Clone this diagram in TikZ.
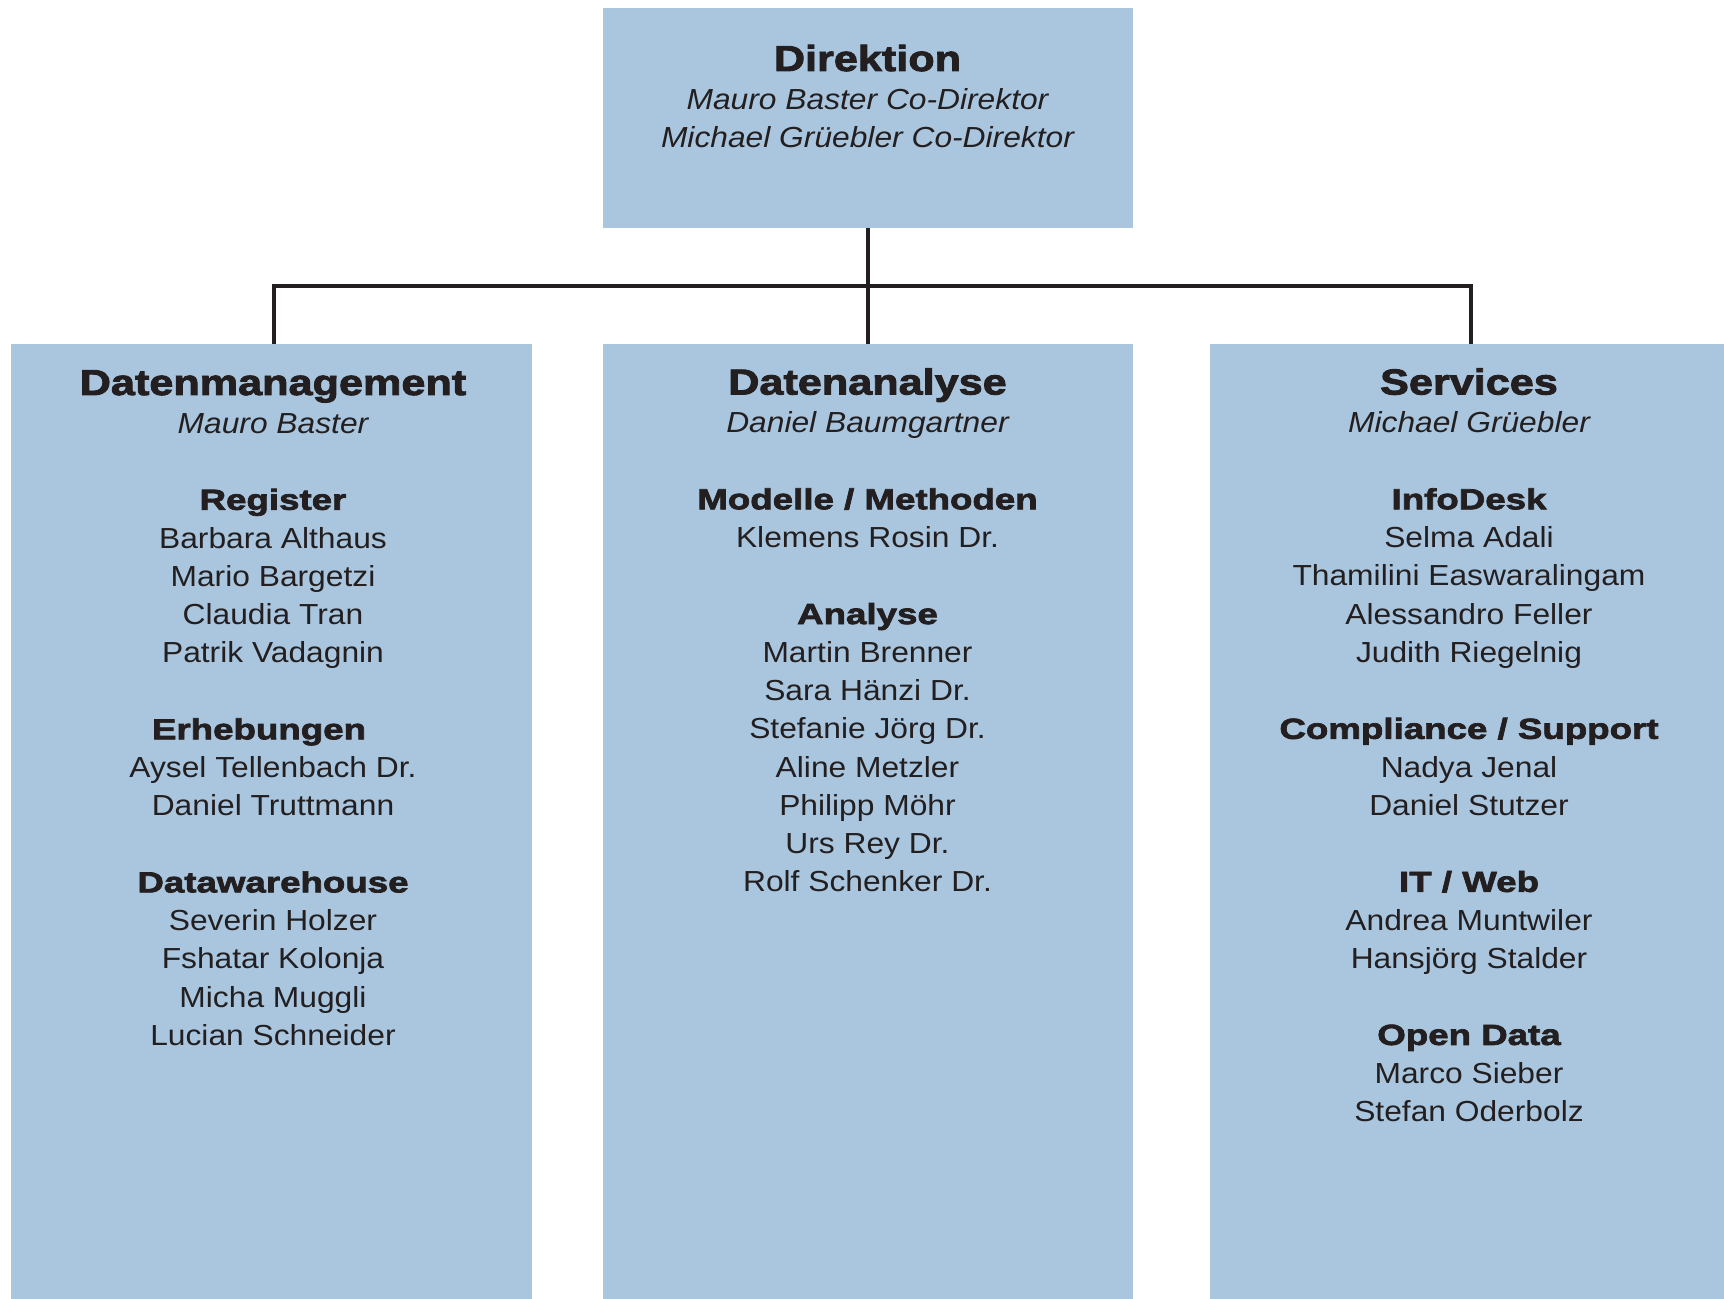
\documentclass[tikz,border=0pt]{standalone}
\usepackage{fontspec}
\setmainfont{Liberation Sans}[FakeStretch=1.095]
\newfontfamily\hdfont{Liberation Sans Bold}[FakeStretch=1.2,FakeBold=2.5]
\newfontfamily\sbfont{Liberation Sans Bold}[FakeStretch=1.265,FakeBold=2.5]
\definecolor{boxblue}{RGB}{169,198,222}
\definecolor{ink}{RGB}{35,31,32}
\newcommand\Hd[1]{{\fontsize{18pt}{19.13pt}\hdfont #1}}
\newcommand\Sb[1]{{\sbfont #1}}
\newcommand\It[1]{{\itshape #1}}
\begin{document}
\begin{tikzpicture}[x=0.5pt,y=-0.5pt,
  box/.style={fill=boxblue,draw=none,inner sep=0pt,outer sep=0pt},
  txt/.style={anchor=base,inner sep=0pt,outer sep=0pt,text=ink,font=\fontsize{14.5pt}{19.13pt}\selectfont},
  conn/.style={draw=ink,line width=2pt}]
\useasboundingbox (0,0) rectangle (1724,1299);
% boxes
\node[box,minimum width=265pt,minimum height=109.95pt] (dir) at (867.5,117.65) {};
\node[box,minimum width=260.5pt,minimum height=477.5pt] (dm) at (271.5,821.5) {};
\node[box,minimum width=265pt,minimum height=477.5pt] (da) at (867.5,821.5) {};
\node[box,minimum width=261.5pt,minimum height=477.5pt] (sv) at (1471,821.5) {};
% connectors
\coordinate (bus) at (867.5,286);
\draw[conn] (dir.south) -- (da.north);
\draw[conn] ([xshift=1.25pt]dm.north) |- (bus) -| (sv.north);
% texts
\node[txt] (tdir) at (867.5,71) {\begin{tabular}[t]{@{}c@{}}
\Hd{Direktion}\\
\It{Mauro Baster Co-Direktor}\\
\It{Michael Grüebler Co-Direktor}
\end{tabular}};
\node[txt] (tdm) at (273,395) {\begin{tabular}[t]{@{}c@{}}
\Hd{Datenmanagement}\\
\It{Mauro Baster}\\
\\
\Sb{Register}\\
Barbara Althaus\\
Mario Bargetzi\\
Claudia Tran\\
Patrik Vadagnin\\
\\
\Sb{Erhebungen}\hspace*{14pt}\\
Aysel Tellenbach Dr.\\
Daniel Truttmann\\
\\
\Sb{Datawarehouse}\\
Severin Holzer\\
Fshatar Kolonja\\
Micha Muggli\\
Lucian Schneider
\end{tabular}};
\node[txt] (tda) at (867.5,394.5) {\begin{tabular}[t]{@{}c@{}}
\Hd{Datenanalyse}\\
\It{Daniel Baumgartner}\\
\\
\Sb{Modelle / Methoden}\\
Klemens Rosin Dr.\\
\\
\Sb{Analyse}\\
Martin Brenner\\
Sara Hänzi Dr.\\
Stefanie Jörg Dr.\\
Aline Metzler\\
Philipp Möhr\\
Urs Rey Dr.\\
Rolf Schenker Dr.
\end{tabular}};
\node[txt] (tsv) at (1469,394.5) {\begin{tabular}[t]{@{}c@{}}
\Hd{Services}\\
\It{Michael Grüebler}\\
\\
\Sb{InfoDesk}\\
Selma Adali\\
Thamilini Easwaralingam\\
Alessandro Feller\\
Judith Riegelnig\\
\\
\Sb{Compliance / Support}\\
Nadya Jenal\\
Daniel Stutzer\\
\\
\Sb{IT / Web}\\
Andrea Muntwiler\\
Hansjörg Stalder\\
\\
\Sb{Open Data}\\
Marco Sieber\\
Stefan Oderbolz
\end{tabular}};
\end{tikzpicture}
\end{document}
